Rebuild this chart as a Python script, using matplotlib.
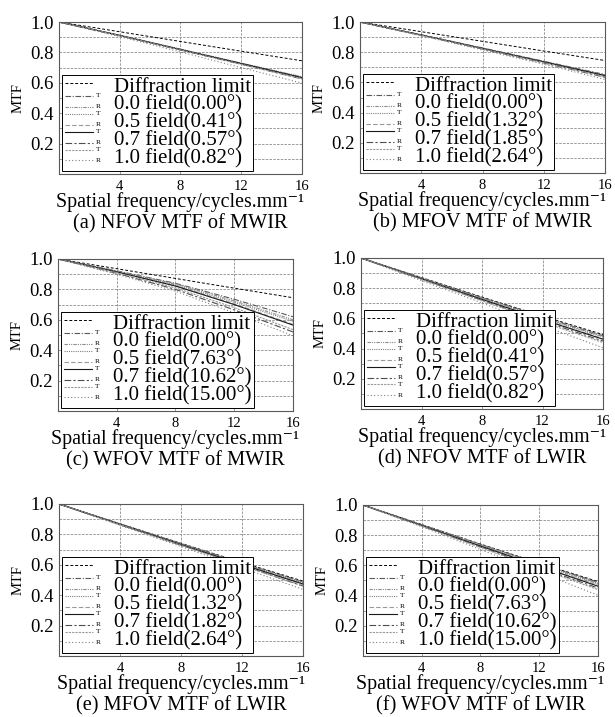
import matplotlib
matplotlib.use("Agg")
import matplotlib.pyplot as plt
from matplotlib.lines import Line2D
from matplotlib.text import Text
from matplotlib.legend_handler import HandlerBase

plt.rcParams['font.family'] = ['Liberation Serif', 'DejaVu Serif']

# spatial frequency samples (cycles/mm)
freq = [0, 4, 8, 12, 16]

diff_mwir = [1.0, 0.936, 0.872, 0.808, 0.745]
diff_lwir = [1.0, 0.870, 0.741, 0.615, 0.493]

# tangential (T) and sagittal (R) curves, fields 0.0 / 0.5 / 0.7 / 1.0
a_t = [[1, 0.912, 0.820, 0.728, 0.637], [1, 0.913, 0.822, 0.730, 0.640],
       [1, 0.912, 0.819, 0.727, 0.634], [1, 0.910, 0.816, 0.722, 0.628]]
a_s = [[1, 0.911, 0.818, 0.726, 0.633], [1, 0.910, 0.817, 0.724, 0.630],
       [1, 0.910, 0.816, 0.722, 0.626], [1, 0.904, 0.803, 0.700, 0.598]]

b_t = [[1, 0.915, 0.828, 0.740, 0.652], [1, 0.914, 0.826, 0.737, 0.648],
       [1, 0.914, 0.825, 0.736, 0.645], [1, 0.912, 0.822, 0.731, 0.638]]
b_s = [[1, 0.914, 0.826, 0.738, 0.650], [1, 0.913, 0.824, 0.734, 0.642],
       [1, 0.912, 0.821, 0.729, 0.634], [1, 0.909, 0.815, 0.720, 0.620]]

c_t = [[1, 0.922, 0.840, 0.735, 0.620], [1, 0.918, 0.830, 0.715, 0.590],
       [1, 0.915, 0.822, 0.700, 0.565], [1, 0.910, 0.810, 0.680, 0.535]]
c_s = [[1, 0.920, 0.836, 0.725, 0.600], [1, 0.916, 0.825, 0.705, 0.570],
       [1, 0.906, 0.800, 0.665, 0.520], [1, 0.900, 0.788, 0.645, 0.495]]

d_t = [[1, 0.868, 0.738, 0.610, 0.485], [1, 0.866, 0.733, 0.603, 0.476],
       [1, 0.862, 0.726, 0.592, 0.462], [1, 0.858, 0.716, 0.575, 0.440]]
d_s = [[1, 0.867, 0.735, 0.606, 0.480], [1, 0.864, 0.728, 0.595, 0.465],
       [1, 0.860, 0.720, 0.583, 0.450], [1, 0.850, 0.702, 0.553, 0.405]]

e_t = [[1, 0.869, 0.740, 0.612, 0.488], [1, 0.868, 0.737, 0.608, 0.482],
       [1, 0.866, 0.733, 0.602, 0.474], [1, 0.864, 0.728, 0.594, 0.462]]
e_s = [[1, 0.868, 0.738, 0.609, 0.484], [1, 0.866, 0.734, 0.602, 0.470],
       [1, 0.864, 0.729, 0.596, 0.460], [1, 0.860, 0.720, 0.580, 0.438]]

f_t = [[1, 0.869, 0.740, 0.612, 0.488], [1, 0.867, 0.735, 0.605, 0.476],
       [1, 0.864, 0.728, 0.595, 0.462], [1, 0.860, 0.718, 0.578, 0.440]]
f_s = [[1, 0.868, 0.737, 0.608, 0.482], [1, 0.865, 0.731, 0.598, 0.468],
       [1, 0.862, 0.722, 0.586, 0.450], [1, 0.856, 0.705, 0.555, 0.402]]

fields = ["0.0", "0.5", "0.7", "1.0"]
angles_a = ["0.00", "0.41", "0.57", "0.82"]
angles_b = ["0.00", "1.32", "1.85", "2.64"]
angles_c = ["0.00", "7.63", "10.62", "15.00"]
angles_d = ["0.00", "0.41", "0.57", "0.82"]
angles_e = ["0.00", "1.32", "1.82", "2.64"]
angles_f = ["0.00", "7.63", "10.62", "15.00"]

captions = ["(a) NFOV MTF of MWIR", "(b) MFOV MTF of MWIR",
            "(c) WFOV MTF of MWIR", "(d) NFOV MTF of LWIR",
            "(e) MFOV MTF of LWIR", "(f) WFOV MTF of LWIR"]

# line styles for T / R of each field
t_styles = [((0, (5, 1.5, 1, 1.5)), '0.35'), ((0, (1, 1)), '0.5'),
            ('-', '0.1'), ((0, (2, 1)), '0.6')]
r_styles = [((0, (3, 1, 1, 1, 1, 1)), '0.55'), ((0, (4, 2)), '0.6'),
            ((0, (6, 2, 2, 2)), '0.3'), ((0, (1, 2)), '0.5')]


class TRHandler(HandlerBase):
    def create_artists(self, legend, orig_handle, xdescent, ydescent,
                       width, height, fontsize, trans):
        line_w = width * 0.78
        out = []
        if not isinstance(orig_handle, tuple):
            y = height * 0.6 - ydescent
            ln = Line2D([-xdescent, line_w - xdescent], [y, y])
            self.update_prop(ln, orig_handle, legend)
            ln.set_transform(trans)
            return [ln]
        for src, frac, tag in zip(orig_handle, (0.95, 0.2), ("T", "R")):
            y = height * frac - ydescent
            ln = Line2D([-xdescent, line_w - xdescent], [y, y])
            self.update_prop(ln, src, legend)
            ln.set_transform(trans)
            out.append(ln)
            tx = Text(line_w - xdescent + 0.08 * width, y, tag,
                      fontsize=fontsize * 0.36, va='center', ha='left')
            tx.set_transform(trans)
            out.append(tx)
        return out


def draw_panel(ax, diff, tan, sag, angles, caption):
    h_diff, = ax.plot(freq, diff, color='k', lw=0.7, ls=(0, (3, 2)))
    handles = [h_diff]
    labels = ["Diffraction limit"]
    for i in range(4):
        lt, = ax.plot(freq, tan[i], color=t_styles[i][1], ls=t_styles[i][0], lw=0.8)
        lr, = ax.plot(freq, sag[i], color=r_styles[i][1], ls=r_styles[i][0], lw=0.8)
        handles.append((lt, lr))
        labels.append(f"{fields[i]} field({angles[i]}\u00b0)")

    ax.set_xlim(0, 16)
    ax.set_ylim(0, 1.0)
    ax.set_xticks([4, 8, 12, 16])
    ax.set_yticks([0.2, 0.4, 0.6, 0.8, 1.0])
    ax.set_yticks([0.1, 0.3, 0.5, 0.7, 0.9], minor=True)
    ax.tick_params(axis='x', length=0, pad=4, labelsize=10.5)
    ax.tick_params(axis='y', length=0, pad=4, labelsize=13.5)
    ax.tick_params(which='minor', length=0)
    ax.grid(True, which='both', color='0.55', lw=0.6, ls=(0, (3, 1.5)))
    for sp in ax.spines.values():
        sp.set_linestyle((0, (2, 1)))
        sp.set_color('0.35')
        sp.set_linewidth(0.8)

    ax.set_ylabel("MTF", fontsize=10.5, labelpad=4)
    ax.set_xlabel("Spatial frequency/cycles.mm\u207b\u00b9", fontsize=14.3,
                  labelpad=0)
    ax.annotate(caption, xy=(0.5, 0), xycoords='axes fraction',
                xytext=(0, -29), textcoords='offset points',
                ha='center', va='top', fontsize=14.7)

    leg = ax.legend(handles, labels, handler_map={tuple: TRHandler(), Line2D: TRHandler()},
                    loc='lower left', fontsize=15, labelspacing=-0.08,
                    handlelength=1.75, handletextpad=0.6, borderpad=0.12,
                    borderaxespad=0.15, fancybox=False, framealpha=1,
                    edgecolor='k')
    leg.get_frame().set_linewidth(0.7)


fig = plt.figure(figsize=(6.15, 7.17), dpi=100)
positions = [
    [0.0959, 0.7573, 0.3951, 0.2120],
    [0.5854, 0.7587, 0.3984, 0.2106],
    [0.0943, 0.4268, 0.3821, 0.2120],
    [0.5870, 0.4296, 0.3935, 0.2106],
    [0.0959, 0.0851, 0.3967, 0.2120],
    [0.5902, 0.0851, 0.3821, 0.2106],
]
panel_data = [
    (diff_mwir, a_t, a_s, angles_a),
    (diff_mwir, b_t, b_s, angles_b),
    (diff_mwir, c_t, c_s, angles_c),
    (diff_lwir, d_t, d_s, angles_d),
    (diff_lwir, e_t, e_s, angles_e),
    (diff_lwir, f_t, f_s, angles_f),
]
for pos, (diff, tan, sag, ang), cap in zip(positions, panel_data, captions):
    ax = fig.add_axes(pos)
    draw_panel(ax, diff, tan, sag, ang, cap)

fig.savefig("out.png", dpi=100)
